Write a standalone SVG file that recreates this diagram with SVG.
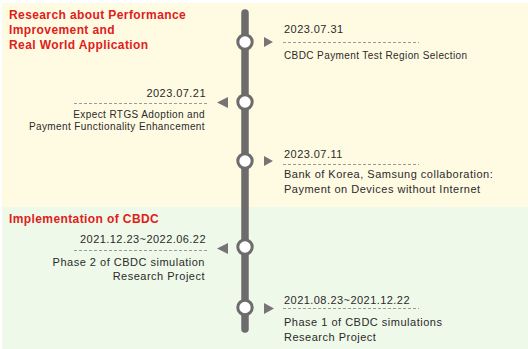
<svg xmlns="http://www.w3.org/2000/svg" width="528" height="349" viewBox="0 0 528 349">
<style>
.title{font-family:"Liberation Sans",Arial,sans-serif;font-size:12px;font-weight:bold;fill:#e0201b;letter-spacing:0.4px}
.date{font-family:"Liberation Sans",Arial,sans-serif;font-size:11px;fill:#2a2a2a;letter-spacing:0.45px}
.desc{font-family:"Liberation Sans",Arial,sans-serif;font-size:10px;fill:#2a2a2a;letter-spacing:0.4px}
.desc2{font-family:"Liberation Sans",Arial,sans-serif;font-size:11px;fill:#2a2a2a;letter-spacing:0.5px}
.dash{stroke:#9a9a9a;stroke-width:1;stroke-dasharray:3 2;fill:none}
.dot{fill:#ffffff;stroke:#6e6b6c;stroke-width:3}
.tri{fill:#777475}
.r{text-anchor:end}
</style>
<rect x="2" y="3" width="526" height="204" fill="#fffbe3"/>
<rect x="2" y="207" width="526" height="142" fill="#eff9e9"/>
<text class="title" x="9" y="19">Research about Performance</text>
<text class="title" x="9" y="34">Improvement and</text>
<text class="title" x="9" y="49">Real World Application</text>
<text class="title" x="9" y="223">Implementation of CBDC</text>
<g id="connectors">
<line x1="245" y1="13" x2="245" y2="329" stroke="#6e6b6c" stroke-width="7.5" stroke-linecap="round"/>
</g>
<g id="n1">
<circle class="dot" cx="245" cy="42" r="7.2"/>
<polygon class="tri" points="264,37 273,42 264,47"/>
<text class="date" x="284" y="33">2023.07.31</text>
<line class="dash" x1="283" y1="42.5" x2="419" y2="42.5"/>
<text class="desc" x="284" y="59">CBDC Payment Test Region Selection</text>
</g>
<g id="n2">
<circle class="dot" cx="245" cy="102" r="7.2"/>
<polygon class="tri" points="228,97 217,102.5 228,108"/>
<text class="date r" x="206" y="96.5">2023.07.21</text>
<line class="dash" x1="74" y1="103.5" x2="209" y2="103.5"/>
<text class="desc r" x="205" y="117.5">Expect RTGS Adoption and</text>
<text class="desc r" x="205" y="129.5">Payment Functionality Enhancement</text>
</g>
<g id="n3">
<circle class="dot" cx="245" cy="161" r="7.2"/>
<polygon class="tri" points="264,156 273,161 264,166"/>
<text class="date" x="284" y="158">2023.07.11</text>
<line class="dash" x1="283" y1="164.5" x2="419" y2="164.5"/>
<text class="desc2" x="284" y="178">Bank of Korea, Samsung collaboration:</text>
<text class="desc2" x="284" y="193">Payment on Devices without Internet</text>
</g>
<g id="n4">
<circle class="dot" cx="245" cy="247" r="7.2"/>
<polygon class="tri" points="228,243 217,248.5 228,254"/>
<text class="date r" x="206" y="242.5">2021.12.23~2022.06.22</text>
<line class="dash" x1="74" y1="250.5" x2="209" y2="250.5"/>
<text class="desc2 r" x="205" y="265.5">Phase 2 of CBDC simulation</text>
<text class="desc2 r" x="205" y="280">Research Project</text>
</g>
<g id="n5">
<circle class="dot" cx="245" cy="307.5" r="7.2"/>
<polygon class="tri" points="264,303 274,308.5 264,314"/>
<text class="date" x="284" y="304">2021.08.23~2021.12.22</text>
<line class="dash" x1="283" y1="308.5" x2="419" y2="308.5"/>
<text class="desc2" x="284" y="326">Phase 1 of CBDC simulations</text>
<text class="desc2" x="284" y="340.5">Research Project</text>
</g>
</svg>
